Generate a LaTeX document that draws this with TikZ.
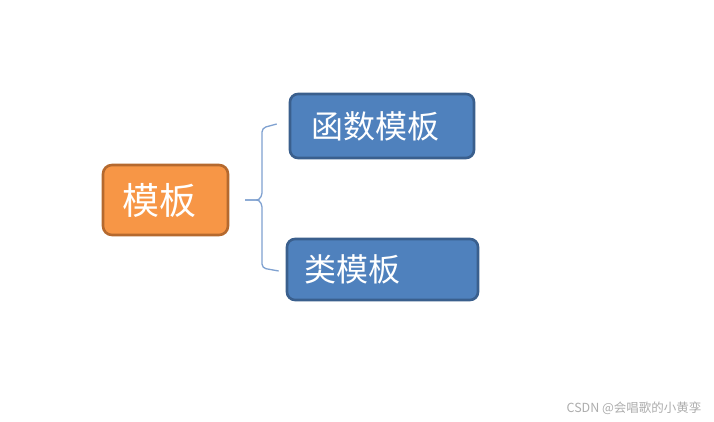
\documentclass[tikz,border=0pt]{standalone}
\usepackage{fontspec}
\setmainfont{Noto Sans CJK SC}
\usetikzlibrary{arrows.meta}
\definecolor{boxorange}{HTML}{F79646}
\definecolor{lineorange}{HTML}{B5692E}
\definecolor{boxblue}{HTML}{4F81BD}
\definecolor{lineblue}{HTML}{3A5F8D}
\definecolor{bracecol}{HTML}{7FA1D0}

\begin{document}
\begin{tikzpicture}[x=1pt,y=-1pt,>=Stealth,
  rootbox/.style={draw=lineorange,fill=boxorange,line width=2.6pt,rounded corners=9pt,
    text=white,minimum width=125pt,minimum height=70pt,inner xsep=19pt,
    text width=87pt,align=left,font=\fontsize{37}{37}\selectfont},
  leafbox/.style={draw=lineblue,fill=boxblue,line width=2.6pt,rounded corners=8pt,
    text=white,align=left,font=\fontsize{32}{32}\selectfont}]
\useasboundingbox (0,0) rectangle (714,422);
\fill[white] (0,0) rectangle (714,422);
\node[rootbox] (root) at (165.5,200) {模板};
\node[leafbox,minimum width=184pt,minimum height=64pt,inner xsep=21pt,text width=142pt] (func) at (382,126) {函数模板};
\node[leafbox,minimum width=191pt,minimum height=61pt,inner xsep=17pt,text width=157pt] (cls) at (382.5,269.5) {类模板};
% brace
\coordinate (tip) at (245,200);
\coordinate (top) at ([xshift=-12pt,yshift=2pt]func.west);
\coordinate (bot) at ([xshift=-7pt,yshift=-1.5pt]cls.west);
\draw[bracecol,line width=1.3pt,rounded corners=4pt] (top) -- (262,128) -- (262,197)
  .. controls (258,200) .. (tip);
\draw[bracecol,line width=1.3pt,rounded corners=4pt] (tip) .. controls (258,200) .. (262,203)
  -- (262,268) -- (bot);
\node[anchor=east,text=black!32,font=\fontsize{12.5}{12.5}\selectfont] (mark) at (705,408) {CSDN @会唱歌的小黄孪};
\end{tikzpicture}
\end{document}
